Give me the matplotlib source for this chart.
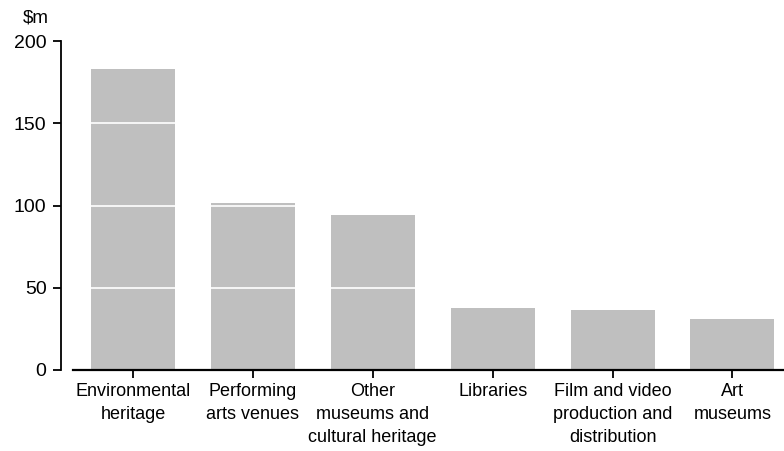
import matplotlib.pyplot as plt

# Data
categories = ["Environmental\nheritage", "Performing\narts venues", "Other\nmuseums and\ncultural heritage",
              "Libraries", "Film and video\nproduction and\ndistribution", "Art\nmuseums"]
values = [183, 101.5, 94, 37.5, 36.5, 31]
yticks = [0, 50, 100, 150, 200]

plt.rcParams["font.family"] = ["Liberation Sans", "DejaVu Sans"]
plt.rcParams["font.size"] = 13

fig = plt.figure(figsize=(7.84, 4.51), dpi=100)
ax = fig.add_axes([73 / 784, 1 - 370 / 451, 1 - 73 / 784, 329 / 451])

x = range(len(categories))
ax.bar(x, values, width=0.7, color="#bfbfbf", zorder=1)

# white gridlines over the bars
for g in yticks[1:-1]:
    ax.axhline(g, color="white", lw=1.2, zorder=2)

ax.set_ylim(0, 200)
ax.set_xlim(-0.5, 5.43)
ax.set_yticks(yticks)
ax.set_xticks(list(x))
ax.set_xticklabels(categories, linespacing=1.5)

for s in ["top", "right"]:
    ax.spines[s].set_visible(False)
ax.spines["left"].set_position(("outward", 9))
ax.spines["left"].set_linewidth(1.3)
ax.spines["bottom"].set_linewidth(1.6)
ax.tick_params(axis="y", length=6, width=1.3, pad=4, labelsize=14)
ax.tick_params(axis="x", length=6, width=1.3, pad=3)

ax.text(49 / 784, 1 - 27 / 451, "$m", transform=fig.transFigure, ha="right", va="bottom", fontsize=13.5)

fig.savefig("out.png", dpi=100)
